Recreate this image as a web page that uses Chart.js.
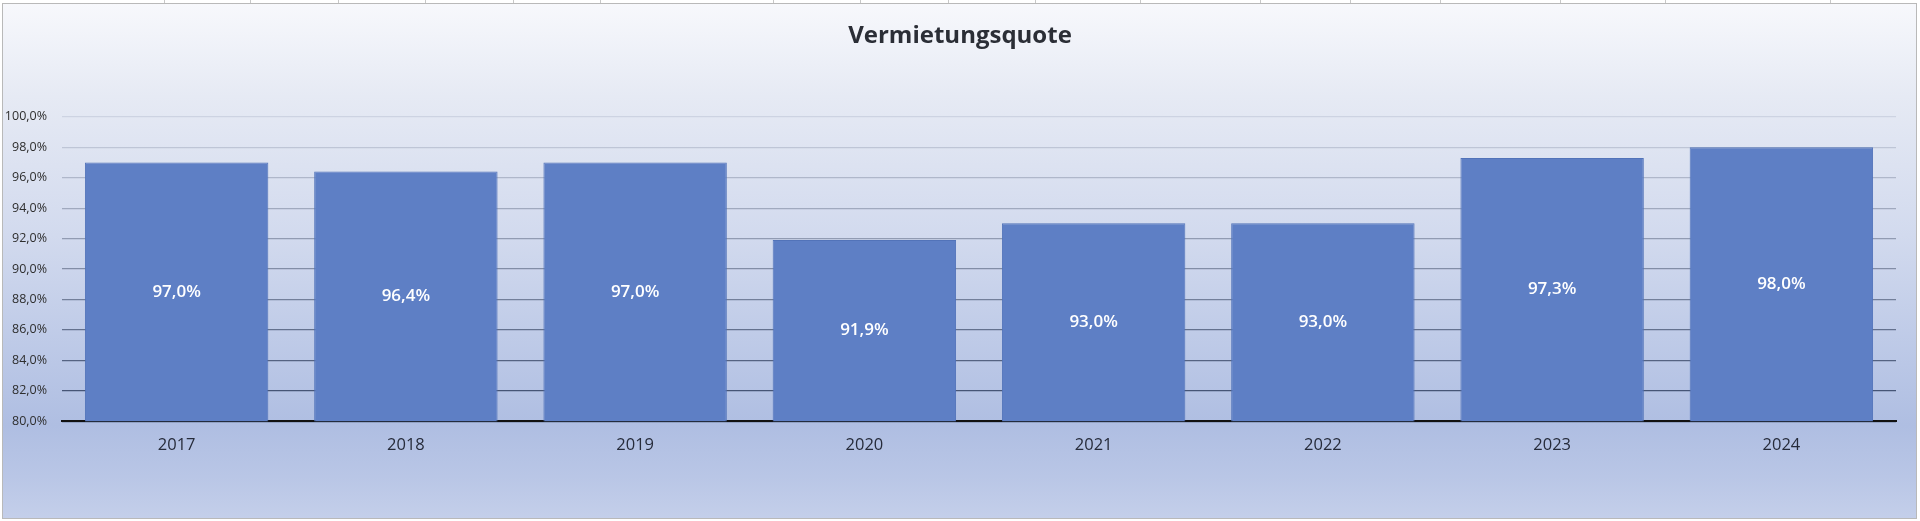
<!DOCTYPE html>
<html>
<head>
<meta charset="utf-8">
<script src="https://cdn.jsdelivr.net/npm/chart.js@4.4.1/dist/chart.umd.min.js"></script>
<style>
  html, body { margin: 0; padding: 0; background: #ffffff; width: 1920px; height: 521px; overflow: hidden; }
  #frame {
    position: absolute; left: 2px; top: 3px; width: 1913px; height: 514px;
    border: 1px solid #b9b9b9;
    background: linear-gradient(to bottom, #f7f8fc 0%, #e6eaf4 18%, #d2daee 45%, #bac7e6 70%, #afbee2 82%, #b9c6e6 92%, #c4cfea 100%);
  }
  #grid span { position: absolute; top: 0; width: 1px; height: 3px; background: #c8c8c8; }
  #wrap { position: absolute; left: 0; top: 0; width: 1920px; height: 521px; }
</style>
</head>
<body>
<div id="grid">
  <span style="left:164px"></span><span style="left:250px"></span><span style="left:338px"></span>
  <span style="left:425px"></span><span style="left:513px"></span><span style="left:600px"></span>
  <span style="left:773px"></span><span style="left:860px"></span><span style="left:948px"></span>
  <span style="left:1035px"></span><span style="left:1140px"></span><span style="left:1260px"></span>
  <span style="left:1350px"></span><span style="left:1440px"></span><span style="left:1560px"></span>
  <span style="left:1665px"></span><span style="left:1830px"></span>
</div>
<div id="frame"></div>
<div id="wrap"><canvas id="c"></canvas></div>
<script>
const categories = ["2017", "2018", "2019", "2020", "2021", "2022", "2023", "2024"];
const quoteValues = [97.0, 96.4, 97.0, 91.9, 93.0, 93.0, 97.3, 98.0];
const chartTitle = "Vermietungsquote";
const yMin = 80;
const yMax = 100;
const yStep = 2;

function fmtPct(v) {
  return Number(v).toFixed(1).replace(".", ",") + "%";
}

const barLabels = {
  id: "barLabels",
  afterDraw(chart) {
    const ctx = chart.ctx;
    const meta = chart.getDatasetMeta(0);
    const yScale = chart.scales.y;
    const basePx = yScale.getPixelForValue(yMin);
    ctx.save();
    ctx.fillStyle = "#ffffff";
    ctx.font = "600 17px 'Open Sans', 'Noto Sans', sans-serif";
    ctx.textAlign = "center";
    ctx.textBaseline = "middle";
    meta.data.forEach((bar, i) => {
      const topPx = yScale.getPixelForValue(quoteValues[i]);
      const mid = (topPx + basePx) / 2;
      ctx.fillText(fmtPct(quoteValues[i]), bar.x, mid);
    });
    ctx.restore();
  }
};

function gridColor(ctx) {
  const v = ctx.tick ? ctx.tick.value : 100;
  const t = Math.max(0, Math.min(1, (yMax - v) / (yMax - yMin)));
  const r = Math.round(205 - t * 150);
  const g = Math.round(211 - t * 140);
  const b = Math.round(226 - t * 120);
  return `rgb(${r},${g},${b})`;
}

new Chart(document.getElementById("c"), {
  type: "bar",
  data: {
    labels: categories,
    datasets: [{
      data: quoteValues,
      backgroundColor: "#5e7fc5",
      borderColor: "#5273b9",
      borderWidth: 1,
      categoryPercentage: 1.0,
      barPercentage: 0.8
    }]
  },
  options: {
    responsive: true,
    maintainAspectRatio: false,
    animation: false,
    layout: { padding: { left: 0, right: 0, top: 0, bottom: 52 } },
    plugins: {
      legend: { display: false },
      tooltip: { enabled: false },
      title: {
        display: true,
        text: chartTitle,
        color: "#2b2e36",
        font: { family: "'Open Sans'", size: 24, weight: "bold" },
        padding: { top: 22, bottom: 66 }
      }
    },
    scales: {
      x: {
        grid: { display: false, drawTicks: false },
        border: { display: true, color: "#111111", width: 2 },
        ticks: {
          color: "#262b3a",
          font: { family: "'Open Sans'", size: 16.5 },
          padding: 14
        }
      },
      y: {
        min: yMin,
        max: yMax,
        afterFit(scale) { scale.width = 62; },
        grid: { color: gridColor, lineWidth: 1.2, drawTicks: false },
        border: { display: false },
        ticks: {
          stepSize: yStep,
          padding: 15,
          color: "#2e2e2e",
          font: { family: "'Open Sans'", size: 12.5 },
          callback: (v) => fmtPct(v)
        }
      },
      yRightSpacer: {
        position: "right",
        min: yMin,
        max: yMax,
        afterFit(scale) { scale.width = 24; },
        grid: { display: false, drawTicks: false },
        border: { display: false },
        ticks: { display: false }
      }
    }
  },
  plugins: [barLabels]
});
</script>
</body>
</html>
